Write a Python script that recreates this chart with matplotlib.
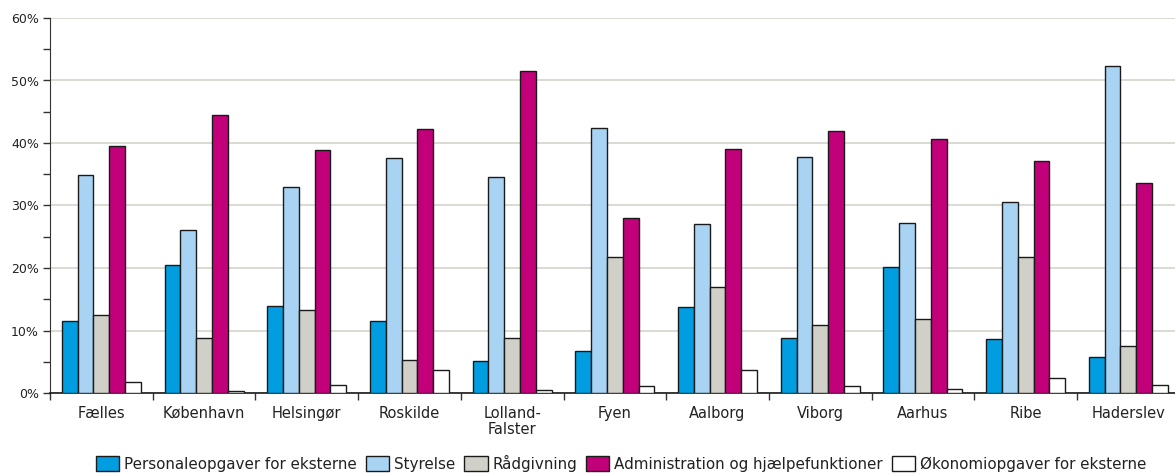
import matplotlib
matplotlib.use("Agg")
import matplotlib.pyplot as plt
import numpy as np
from matplotlib.ticker import FuncFormatter, MultipleLocator

categories = ["Fælles", "København", "Helsingør", "Roskilde", "Lolland-\nFalster",
              "Fyen", "Aalborg", "Viborg", "Aarhus", "Ribe", "Haderslev"]

series_names = ["Personaleopgaver for eksterne", "Styrelse", "Rådgivning",
                "Administration og hjælpefunktioner", "Økonomiopgaver for eksterne"]

personale = [11.5, 20.5, 13.9, 11.5, 5.1, 6.7, 13.8, 8.8, 20.2, 8.6, 5.7]
styrelse = [34.9, 26.1, 33.0, 37.6, 34.5, 42.4, 27.0, 37.8, 27.2, 30.5, 52.3]
raadgivning = [12.5, 8.8, 13.3, 5.3, 8.8, 21.8, 17.0, 10.9, 11.8, 21.8, 7.5]
administration = [39.5, 44.5, 38.9, 42.2, 51.5, 28.0, 39.0, 41.9, 40.6, 37.1, 33.6]
oekonomi = [1.8, 0.4, 1.3, 3.7, 0.5, 1.1, 3.7, 1.1, 0.7, 2.4, 1.3]

colors = ["#009ee0", "#a8d3f3", "#d0d0c8", "#c2007a", "#ffffff"]

plt.rcParams["font.family"] = ["DejaVu Sans"]
plt.rcParams["text.color"] = "#222222"
plt.rcParams["xtick.labelcolor"] = "#222222"
plt.rcParams["ytick.labelcolor"] = "#222222"

fig = plt.figure(figsize=(11.75, 4.73), dpi=100)
ax = fig.add_axes([50 / 1175, 80 / 473, 11 * 102.7 / 1175, 375 / 473])

values = [personale, styrelse, raadgivning, administration, oekonomi]
x = np.arange(len(categories))
width = 0.154
offsets = (np.arange(5) - 2) * width

for vals, off, col, name in zip(values, offsets, colors, series_names):
    ax.bar(x + off, vals, width=width, color=col, edgecolor="#1a1a1a",
           linewidth=1.0, label=name, zorder=3)

ax.set_xlim(-0.5, len(categories) - 0.5)
ax.set_ylim(0, 60)

ax.yaxis.set_major_locator(MultipleLocator(10))
ax.yaxis.set_minor_locator(MultipleLocator(5))
ax.yaxis.set_major_formatter(FuncFormatter(lambda v, p: f"{v:.0f}%"))
ax.grid(axis="y", which="major", color="#d4d4cc", linewidth=1.2, zorder=0)

# group boundaries as ticks, labels at group centres
ax.set_xticks(np.arange(len(categories) + 1) - 0.5)
ax.set_xticklabels([])
ax.set_xticks(x, minor=True)
ax.set_xticklabels(categories, minor=True, fontsize=10.5, linespacing=1.15)
ax.tick_params(axis="x", which="major", length=5, width=1, color="#333333", direction="out")
ax.tick_params(axis="x", which="minor", length=0, pad=9)
ax.tick_params(axis="y", which="both", length=5, width=1, color="#333333",
               labelsize=9, pad=3)

for side in ["top", "right"]:
    ax.spines[side].set_visible(False)
ax.spines["left"].set_color("#333333")
ax.spines["bottom"].set_color("#1a1a1a")
ax.spines["bottom"].set_linewidth(1.2)

handles, labels = ax.get_legend_handles_labels()
fig.legend(handles, labels, loc="center", bbox_to_anchor=(621 / 1175, 1 - 463 / 473),
           ncol=5, frameon=False, fontsize=10.9, handlelength=1.55, handleheight=1.1,
           handletextpad=0.3, columnspacing=0.6, borderaxespad=0)

fig.savefig("out.png", dpi=100)
